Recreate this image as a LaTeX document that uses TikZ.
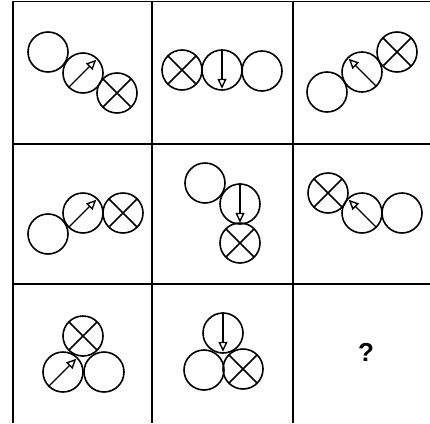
\documentclass[tikz,border=0pt]{standalone}
\usepackage{fontspec}
\usepackage{tikz}
\usetikzlibrary{arrows.meta}
\newfontfamily\qfont{Liberation Sans}

\begin{document}
\begin{tikzpicture}[
    x=1pt, y=-1pt,
    ring/.style={circle, draw, line width=1.6pt, minimum size=40pt, inner sep=0pt},
    xring/.style={ring, path picture={
        \draw[line width=1.6pt] (path picture bounding box.north west) -- (path picture bounding box.south east)
            (path picture bounding box.north east) -- (path picture bounding box.south west);}},
    arr/.style={-{Triangle[open, length=10pt, width=9pt, line width=1.4pt]}, line width=1.4pt, shorten >=2pt},
    gridline/.style={line width=1.8pt}
]
\useasboundingbox (0,0) rectangle (430,423);

% grid
\draw[gridline] (13,423) -- (13,1.5) -- (430,1.5);
\draw[gridline] (152,1.5) -- (152,423);
\draw[gridline] (293,1.5) -- (293,423);
\draw[gridline] (13,144) -- (430,144);
\draw[gridline] (13,284) -- (430,284);

% row 1
\node[ring]  (a1) at (48,52) {};
\node[ring]  (a2) at (83,73) {};
\node[xring] (a3) at (117,93) {};
\draw[arr] (a2.225) -- (a2.45);

\node[xring] (b1) at (182,70) {};
\node[ring]  (b2) at (222,70) {};
\node[ring]  (b3) at (262,71) {};
\draw[arr] (b2.north) -- (b2.south);

\node[ring]  (c1) at (327,92) {};
\node[ring]  (c2) at (362,72) {};
\node[xring] (c3) at (397,52) {};
\draw[arr] (c2.315) -- (c2.135);

% row 2
\node[ring]  (d1) at (48,234) {};
\node[ring]  (d2) at (83,213) {};
\node[xring] (d3) at (123,213) {};
\draw[arr] (d2.225) -- (d2.45);

\node[ring]  (e1) at (205,183) {};
\node[ring]  (e2) at (240,204) {};
\node[xring] (e3) at (240,243) {};
\draw[arr] (e2.north) -- (e2.south);

\node[xring] (f1) at (328,193) {};
\node[ring]  (f2) at (362,213) {};
\node[ring]  (f3) at (402,213) {};
\draw[arr] (f2.315) -- (f2.135);

% row 3
\node[xring] (g1) at (83,336) {};
\node[ring]  (g2) at (63,372) {};
\node[ring]  (g3) at (104,372) {};
\draw[arr] (g2.225) -- (g2.45);

\node[ring]  (h1) at (223,333) {};
\node[ring]  (h2) at (204,370) {};
\node[xring] (h3) at (243,369) {};
\draw[arr] (h1.north) -- (h1.south);

\node (q) at (366,352) {\qfont\bfseries\fontsize{26}{26}\selectfont ?};
\end{tikzpicture}
\end{document}
